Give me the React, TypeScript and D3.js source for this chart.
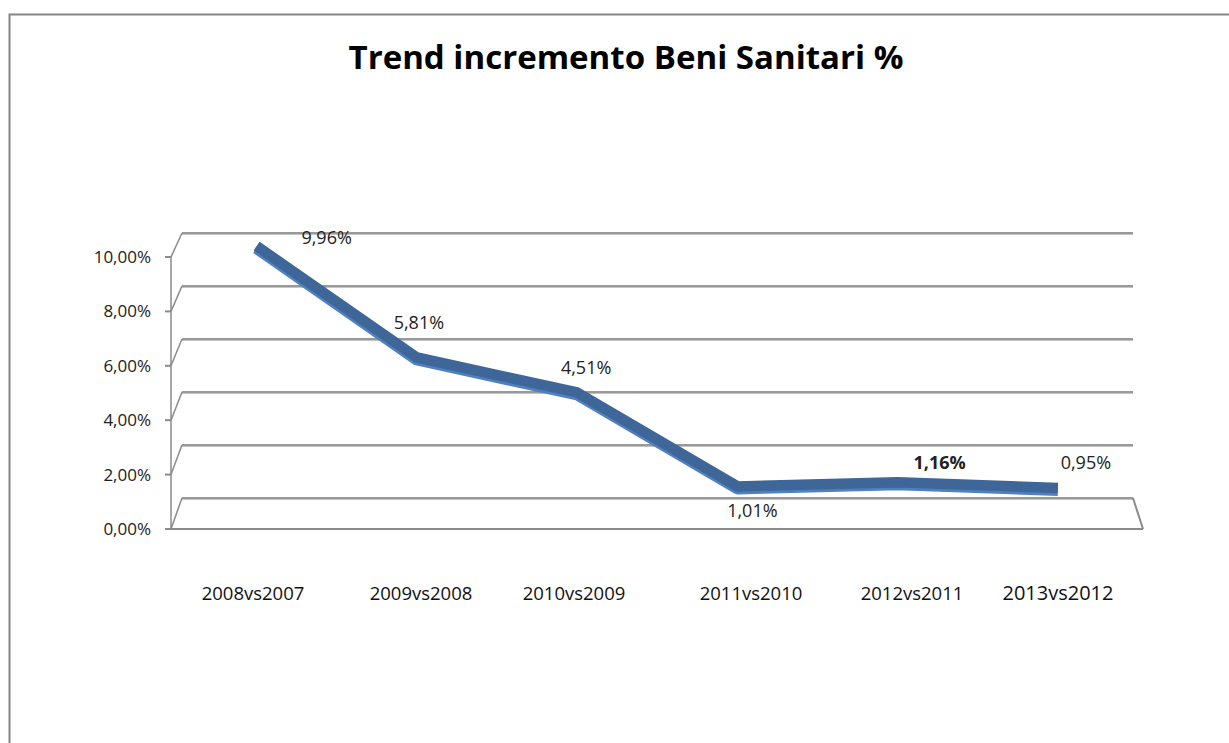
import * as d3 from 'd3'

const categories = ['2008vs2007', '2009vs2008', '2010vs2009', '2011vs2010', '2012vs2011', '2013vs2012']
const values = [9.96, 5.81, 4.51, 1.01, 1.16, 0.95]
const valueLabels = ['9,96%', '5,81%', '4,51%', '1,01%', '1,16%', '0,95%']
const yTicks = [0, 2, 4, 6, 8, 10]
const yTickLabels = ['0,00%', '2,00%', '4,00%', '6,00%', '8,00%', '10,00%']

// Excel puts the data labels a bit off their points
const labelShift = [
    [70, -8],
    [2, -35],
    [9, -25],
    [15, 24],
    [42, -20],
    [28, -25]
]
const boldLabel = [false, false, false, false, true, false]
// category labels are not quite evenly spaced either
const catShift = [1, 7, -2, 13, 12, -4]

const W = 1229
const H = 743
const font = "'Open Sans', 'Noto Sans', sans-serif"
const gridColor = '#8b8b8b'

// front and back planes of the 3d box
const front = { x0: 171, x1: 1143, y0: 529, y1: 257 }
const back = { x0: 182, x1: 1133, y0: 498, y1: 233 }
const mid = {
    x0: (front.x0 + back.x0) / 2,
    x1: (front.x1 + back.x1) / 2,
    y0: (front.y0 + back.y0) / 2,
    y1: (front.y1 + back.y1) / 2
}

const yFront = d3.scaleLinear().domain([0, 10]).range([front.y0, front.y1])
const yBack = d3.scaleLinear().domain([0, 10]).range([back.y0, back.y1])
const yMid = d3.scaleLinear().domain([0, 10]).range([mid.y0, mid.y1])
const xMid = d3.scalePoint().domain(categories).range([mid.x0, mid.x1]).padding(0.5)
const xLabel = d3.scalePoint().domain(categories).range([front.x0, front.x1]).padding(0.5)

export default function App() {
    const pts: [number, number][] = categories.map((c, i) => [xMid(c) as number, yMid(values[i])])
    const line = d3.line()

    return (
        <svg
            width={W}
            height={H}
            style={{ position: 'absolute', left: 0, top: 0, background: '#fff' }}
        >
            <rect x={9.5} y={14.5} width={W + 20} height={H + 20} fill="#fff" stroke="#868686" strokeWidth={2} />

            <text
                x={626}
                y={69}
                textAnchor="middle"
                fontFamily={font}
                fontWeight="bold"
                fontSize={33}
                textLength={555}
                lengthAdjust="spacingAndGlyphs"
                fill="#000"
            >
                Trend incremento Beni Sanitari %
            </text>

            {/* back gridlines with the bent left wall */}
            {yTicks.map((t, i) => (
                <g key={t}>
                    <line x1={back.x0} x2={back.x1} y1={yBack(t) + 0.5} y2={yBack(t) + 0.5} stroke="#c4c4c4" strokeWidth={3} />
                    <line x1={back.x0} x2={back.x1} y1={yBack(t)} y2={yBack(t)} stroke={gridColor} strokeWidth={1.5} />
                    <line x1={front.x0} y1={yFront(t)} x2={back.x0} y2={yBack(t)} stroke={gridColor} strokeWidth={1.5} />
                    <line x1={front.x0 - 6} x2={front.x0} y1={yFront(t)} y2={yFront(t)} stroke={gridColor} strokeWidth={2} />
                    <text
                        x={151}
                        y={yFront(t)}
                        dy="0.35em"
                        textAnchor="end"
                        fontFamily={font}
                        fontSize={17}
                        fill="#222"
                    >
                        {yTickLabels[i]}
                    </text>
                </g>
            ))}
            <line x1={front.x0} x2={front.x0} y1={yFront(10)} y2={yFront(0)} stroke={gridColor} strokeWidth={1.5} />

            {/* floor */}
            <line x1={front.x0} x2={front.x1} y1={front.y0} y2={front.y0} stroke={gridColor} strokeWidth={2} />
            <line x1={back.x1} y1={back.y0} x2={front.x1} y2={front.y0} stroke={gridColor} strokeWidth={2} />

            {/* ribbon line */}
            <path
                d={line(pts.map(([x, y]) => [x, y + 2])) || ''}
                fill="none"
                stroke="#4f80bf"
                strokeWidth={12}
                strokeLinejoin="round"
            />
            <path
                d={line(pts) || ''}
                fill="none"
                stroke="#3e6698"
                strokeWidth={10.5}
                strokeLinejoin="round"
            />

            {pts.map(([x, y], i) => (
                <text
                    key={categories[i]}
                    x={x + labelShift[i][0]}
                    y={y + labelShift[i][1]}
                    dy="0.35em"
                    textAnchor="middle"
                    fontFamily={font}
                    fontSize={18}
                    fontWeight={boldLabel[i] ? 'bold' : 'normal'}
                    fill="#222"
                >
                    {valueLabels[i]}
                </text>
            ))}

            {categories.map((c, i) => (
                <text
                    key={c}
                    x={(xLabel(c) as number) + catShift[i]}
                    y={600}
                    textAnchor="middle"
                    fontFamily={font}
                    fontSize={i === 5 ? 20 : 18.5}
                    fill="#111"
                >
                    {c}
                </text>
            ))}
        </svg>
    )
}
